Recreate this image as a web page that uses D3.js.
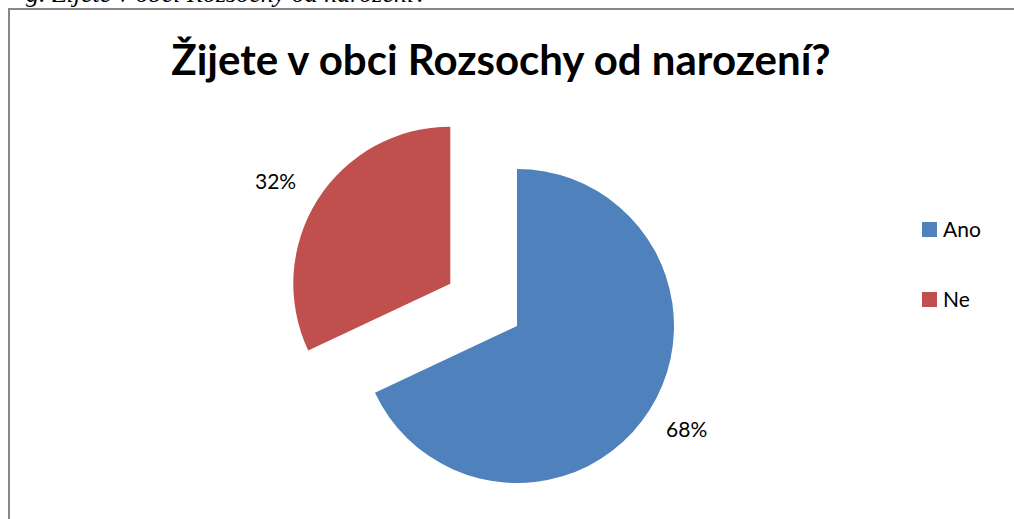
<!DOCTYPE html>
<html>
<head>
<meta charset="utf-8">
<script src="https://cdn.jsdelivr.net/npm/d3@7"></script>
<style>
  body { margin: 0; background: #fff; }
  svg { display: block; }
</style>
</head>
<body>
<svg id="chart" width="1014" height="519"></svg>
<script>
// chart data
var categories = ["Ano", "Ne"];
var values = [68, 32];
var colors = ["#4F81BD", "#C0504D"];
var title = "Žijete v obci Rozsochy od narození?";
var caption = "g. Žijete v obci Rozsochy od narození?";

var svg = d3.select("#chart");

// caption line from the page above, cut off by the top edge
svg.append("text")
    .attr("x", 26)
    .attr("y", 2)
    .style("font-family", "'Liberation Serif', serif")
    .style("font-style", "italic")
    .style("font-size", "26px")
    .text(caption);

// chart frame (right and bottom edges are off screen)
svg.append("path")
    .attr("d", "M9,519 V9 H1014")
    .attr("fill", "none")
    .attr("stroke", "#868686")
    .attr("stroke-width", 2);

svg.append("text")
    .attr("x", 501)
    .attr("y", 75)
    .attr("text-anchor", "middle")
    .style("font-family", "Lato, 'Open Sans', sans-serif")
    .style("font-weight", "bold")
    .style("font-size", "42px")
    .text(title);

var cx = 517, cy = 326, r = 157;
var explode = [0, 79];

var pie = d3.pie().sort(null).value(function (d) { return d; });
var arcs = pie(values);
var arc = d3.arc().innerRadius(0).outerRadius(r);
var labelArc = d3.arc().innerRadius(201).outerRadius(201);

var g = svg.append("g").attr("transform", "translate(" + cx + "," + cy + ")");

var slice = g.selectAll("g.slice")
    .data(arcs)
    .enter().append("g")
    .attr("class", "slice")
    .attr("transform", function (d, i) {
        var mid = (d.startAngle + d.endAngle) / 2;
        return "translate(" + (Math.sin(mid) * explode[i]) + "," + (-Math.cos(mid) * explode[i]) + ")";
    });

slice.append("path")
    .attr("d", arc)
    .attr("fill", function (d, i) { return colors[i]; });

slice.append("text")
    .attr("transform", function (d) {
        var c = labelArc.centroid(d);
        return "translate(" + (c[0] + (c[0] < 0 ? -5 : 0)) + "," + (c[1] + (c[1] < 0 ? 6 : -4)) + ")";
    })
    .attr("text-anchor", "middle")
    .attr("dy", "0.35em")
    .style("font-family", "Lato, 'Open Sans', sans-serif")
    .style("font-size", "21px")
    .text(function (d) { return d.value + "%"; });

// legend
var legend = svg.selectAll("g.legend")
    .data(categories)
    .enter().append("g")
    .attr("class", "legend")
    .attr("transform", function (d, i) { return "translate(922," + (222 + i * 70) + ")"; });

legend.append("rect")
    .attr("width", 15)
    .attr("height", 15)
    .attr("fill", function (d, i) { return colors[i]; });

legend.append("text")
    .attr("x", 21)
    .attr("y", 8)
    .attr("dy", "0.35em")
    .style("font-family", "Lato, 'Open Sans', sans-serif")
    .style("font-size", "21px")
    .text(function (d) { return d; });
</script>
</body>
</html>
